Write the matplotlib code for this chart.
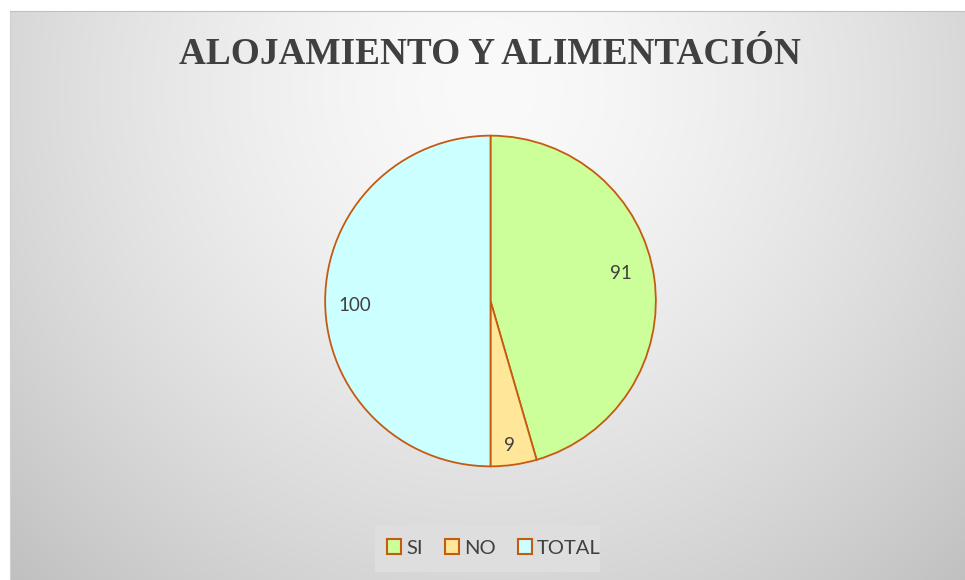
import numpy as np
import matplotlib
matplotlib.use("Agg")
import matplotlib.pyplot as plt
from matplotlib.patches import Rectangle, Patch

title = "ALOJAMIENTO Y ALIMENTACIÓN"
categories = ["SI", "NO", "TOTAL"]
values = [91, 9, 100]
colors = ["#CCFF99", "#FFE699", "#CCFFFF"]
edge = "#C55A11"

W, H = 965, 580
fig = plt.figure(figsize=(W / 100, H / 100), dpi=100)
fig.patch.set_facecolor("white")

# background chart area with radial gradient
x0, y0 = 10, 11
bg = fig.add_axes([x0 / W, 0, (W - x0) / W, (H - y0) / H])
yy, xx = np.mgrid[y0:H, x0:W]
d = np.hypot(xx - 490, yy - 90)
g = 250 - 60 * (d / 700) ** 1.5
g = np.clip(g, 0, 255) / 255.0
bg.imshow(np.dstack([g, g, g]), aspect="auto", extent=[0, 1, 0, 1], origin="upper")
bg.set_xticks([]); bg.set_yticks([])
for s in bg.spines.values():
    s.set_visible(False)
bg.spines["top"].set_visible(True)
bg.spines["top"].set_color("#c0c0c0")
bg.spines["left"].set_visible(True)
bg.spines["left"].set_color("#d0d0d0")

# legend backdrop
fig.patches.append(Rectangle((375 / W, 1 - 572 / H), 225 / W, 47 / H,
                             transform=fig.transFigure, facecolor="#dedede",
                             edgecolor="none", zorder=1))

# pie
cx, cy, r = 490.5, 301, 167
ax = fig.add_axes([(cx - r) / W, 1 - (cy + r) / H, 2 * r / W, 2 * r / H])
total = sum(values)
wedges, texts, autotexts = ax.pie(
    values, colors=colors, startangle=90, counterclock=False,
    wedgeprops=dict(edgecolor=edge, linewidth=1.3),
    autopct=lambda p: f"{round(p * total / 100):d}", pctdistance=0.82,
    textprops=dict(fontsize=13.5, color="#404040", family="Lato"),
    radius=1.0)
ax.set_xlim(-1.01, 1.01); ax.set_ylim(-1.01, 1.01)
ax.set_aspect("equal")
ax.axis("off")
# small label nudges as in the reference
offsets = [(-0.02, 0.05), (0.0, -0.06), (0.0, -0.03)]
for t, (dx, dy) in zip(autotexts, offsets):
    px, py = t.get_position()
    t.set_position((px + dx, py + dy))

fig.text(490 / W, 1 - 55 / H, title, ha="center", va="center",
         fontsize=26.8, fontweight="bold", family="Liberation Serif",
         color="#404040")

handles = [Patch(facecolor=c, edgecolor=edge, linewidth=1.5) for c in colors]
leg = fig.legend(handles, categories, loc="center", bbox_to_anchor=(494 / W, 1 - 548 / H),
                 ncol=3, frameon=False, handlelength=0.7,
                 handleheight=0.7, handletextpad=0.25, columnspacing=1.1,
                 prop=dict(family="Lato", size=14.5))
for t in leg.get_texts():
    t.set_color("#404040")

fig.savefig("out.png", dpi=100)
